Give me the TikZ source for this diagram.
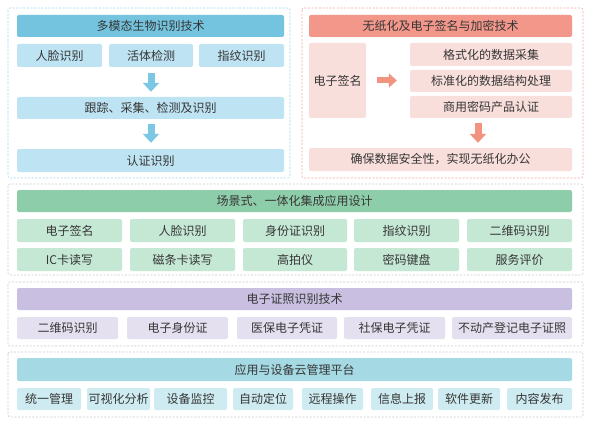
\documentclass[tikz,border=0pt]{standalone}
\usepackage{fontspec}
\setmainfont{Noto Sans CJK SC}
\usetikzlibrary{arrows.meta,calc}
\definecolor{txt}{HTML}{363636}
\definecolor{blueT}{HTML}{74C4DF}
\definecolor{blueL}{HTML}{BEE3F2}
\definecolor{blueA}{HTML}{7CC7E3}
\definecolor{blueD}{HTML}{A2D5EA}
\definecolor{redT}{HTML}{F3978B}
\definecolor{redL}{HTML}{F9DFDB}
\definecolor{redA}{HTML}{F1937F}
\definecolor{redD}{HTML}{F2AA9F}
\definecolor{greenT}{HTML}{8ECDA9}
\definecolor{greenL}{HTML}{C5E8D5}
\definecolor{purpT}{HTML}{C9C0E1}
\definecolor{purpL}{HTML}{E4E0F0}
\definecolor{tealT}{HTML}{A5D9E3}
\definecolor{tealL}{HTML}{CDEBF0}
\definecolor{grayD}{HTML}{C4CED2}
\newcommand\placebox[7]{\node[#2, minimum width={(#5)-(#3)}, minimum height={(#6)-(#4)}] (#1) at ({((#3)+(#5))/2},{((#4)+(#6))/2}) {#7};}
\begin{document}
\begin{tikzpicture}[x=1pt,y=-1pt,
  every node/.style={font=\fontsize{12}{14}\selectfont, text=txt},
  bx/.style={rounded corners=2pt, inner sep=0pt, draw=none},
  frame/.style={dashed, dash pattern=on 2pt off 1.6pt, line width=0.6pt, rounded corners=2pt},
  downarrow/.style={line width=7pt, -{Triangle[width=16pt,length=9pt]}},
  rightarrow/.style={line width=6pt, -{Triangle[width=14pt,length=8pt]}}]
\useasboundingbox (0,0) rectangle (593,422);
\fill[white] (0,0) rectangle (593,422);
% frames
\draw[frame, draw=blueD] (8,8) rectangle (290,178);
\draw[frame, draw=redD] (302,8) rectangle (583,178);
\draw[frame, draw=grayD] (8,184) rectangle (583,275);
\draw[frame, draw=grayD] (8,282) rectangle (583,346);
\draw[frame, draw=grayD] (8,352) rectangle (583,417);
% section 1
\placebox{t1}{bx,fill=blueT}{17}{15}{284}{37}{多模态生物识别技术}
\placebox{a1}{bx,fill=blueL}{17}{44}{102}{67}{人脸识别}
\placebox{a2}{bx,fill=blueL}{109}{44}{193}{67}{活体检测}
\placebox{a3}{bx,fill=blueL}{199}{44}{284}{67}{指纹识别}
\placebox{a4}{bx,fill=blueL}{17}{97}{284}{119}{跟踪、采集、检测及识别}
\placebox{a5}{bx,fill=blueL}{17}{149}{284}{172}{认证识别}
\draw[downarrow, draw=blueA, fill=blueA, shorten <=6pt, shorten >=5pt] (a2.south) -- (a2.south |- a4.north);
\draw[downarrow, draw=blueA, fill=blueA, shorten <=5pt, shorten >=6pt] (a2.south |- a4.south) -- (a2.south |- a5.north);
% section 2
\placebox{t2}{bx,fill=redT}{309}{15}{572}{37}{无纸化及电子签名与加密技术}
\placebox{e1}{bx,fill=redL}{309}{43}{366}{118}{电子签名}
\placebox{c1}{bx,fill=redL}{410}{43}{572}{66}{格式化的数据采集}
\placebox{c2}{bx,fill=redL}{410}{70}{572}{92}{标准化的数据结构处理}
\placebox{c3}{bx,fill=redL}{410}{96}{572}{118}{商用密码产品认证}
\placebox{d1}{bx,fill=redL}{309}{148}{572}{171}{确保数据安全性，实现无纸化办公}
\draw[rightarrow, draw=redA, fill=redA, shorten <=11pt, shorten >=13pt] (e1.east) -- (e1.east -| c2.west);
\coordinate (ca) at ($(c3.south)+(-13,0)$);
\draw[downarrow, draw=redA, fill=redA, shorten <=5pt, shorten >=5pt] (ca) -- (ca |- d1.north);
% section 3
\placebox{t3}{bx,fill=greenT}{17}{190}{572}{212}{场景式、一体化集成应用设计}
\placebox{g1}{bx,fill=greenL}{17}{219}{122}{242}{电子签名}
\placebox{g2}{bx,fill=greenL}{130}{219}{235}{242}{人脸识别}
\placebox{g3}{bx,fill=greenL}{243}{219}{347}{242}{身份证识别}
\placebox{g4}{bx,fill=greenL}{354}{219}{459}{242}{指纹识别}
\placebox{g5}{bx,fill=greenL}{467}{219}{572}{242}{二维码识别}
\placebox{h1}{bx,fill=greenL}{17}{248}{122}{271}{IC卡读写}
\placebox{h2}{bx,fill=greenL}{130}{248}{235}{271}{磁条卡读写}
\placebox{h3}{bx,fill=greenL}{243}{248}{347}{271}{高拍仪}
\placebox{h4}{bx,fill=greenL}{354}{248}{459}{271}{密码键盘}
\placebox{h5}{bx,fill=greenL}{467}{248}{572}{271}{服务评价}
% section 4
\placebox{t4}{bx,fill=purpT}{17}{288}{572}{310}{电子证照识别技术}
\placebox{p1}{bx,fill=purpL}{17}{317}{118}{339}{二维码识别}
\placebox{p2}{bx,fill=purpL}{127}{317}{228}{339}{电子身份证}
\placebox{p3}{bx,fill=purpL}{237}{317}{337}{339}{医保电子凭证}
\placebox{p4}{bx,fill=purpL}{344}{317}{445}{339}{社保电子凭证}
\placebox{p5}{bx,fill=purpL}{452}{317}{572}{339}{不动产登记电子证照}
% section 5
\placebox{t5}{bx,fill=tealT}{17}{358}{572}{381}{应用与设备云管理平台}
\placebox{q1}{bx,fill=tealL}{17}{388}{81}{410}{统一管理}
\placebox{q2}{bx,fill=tealL}{87}{388}{150}{410}{可视化分析}
\placebox{q3}{bx,fill=tealL}{154}{388}{227}{410}{设备监控}
\placebox{q4}{bx,fill=tealL}{233}{388}{293}{410}{自动定位}
\placebox{q5}{bx,fill=tealL}{302}{388}{363}{410}{远程操作}
\placebox{q6}{bx,fill=tealL}{371}{388}{433}{410}{信息上报}
\placebox{q7}{bx,fill=tealL}{438}{388}{500}{410}{软件更新}
\placebox{q8}{bx,fill=tealL}{507}{388}{572}{410}{内容发布}
\end{tikzpicture}
\end{document}
